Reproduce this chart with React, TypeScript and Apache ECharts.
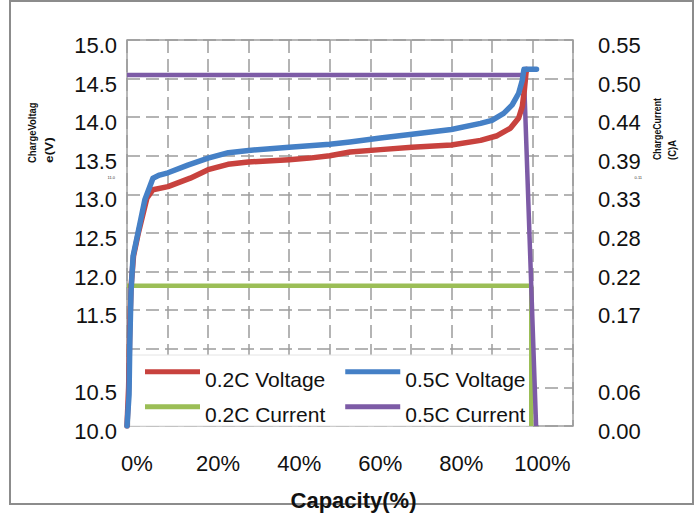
import React, { useEffect, useRef } from 'react';
import * as echarts from 'echarts';

// Tick labels
const xTickLabels = ['0%', '20%', '40%', '60%', '80%', '100%'];
const leftTickLabels = ['10.0', '10.5', '', '11.5', '12.0', '12.5', '13.0', '13.5', '14.0', '14.5', '15.0'];
const rightTickLabels = ['0.00', '0.06', '', '0.17', '0.22', '0.28', '0.33', '0.39', '0.44', '0.50', '0.55'];

// 0.2C voltage
const v02Capacity = [0, 0.4, 0.7, 1.0, 1.6, 2.8, 4.9, 6.4, 10.1, 15.6, 20, 24.9, 29.9, 40, 45, 50, 55, 62.5, 70.3, 80, 87.2, 91.3, 94.6, 96.6, 97.5, 98, 98.4, 98.6];
const v02Voltage = [10.0, 10.5, 11.3, 11.8, 12.2, 12.5, 12.95, 13.06, 13.1, 13.21, 13.32, 13.39, 13.42, 13.45, 13.47, 13.5, 13.55, 13.58, 13.61, 13.64, 13.7, 13.76, 13.86, 13.99, 14.14, 14.35, 14.57, 14.62];

// 0.5C voltage
const v05Capacity = [0, 0.5, 0.7, 1.0, 1.5, 2.7, 4.4, 6.4, 8, 10.1, 15, 20, 25, 30, 40, 50, 55, 62.5, 70.3, 80, 87.2, 90, 92.9, 95, 96.6, 97.5, 97.9, 101.0];
const v05Voltage = [10.0, 10.4, 11.1, 11.75, 12.2, 12.5, 12.93, 13.21, 13.25, 13.28, 13.38, 13.47, 13.54, 13.57, 13.61, 13.65, 13.68, 13.73, 13.78, 13.84, 13.92, 13.96, 14.05, 14.16, 14.31, 14.48, 14.62, 14.62];

// currents
const i02Capacity = [0, 99.7, 99.7];
const i02Current = [0.2, 0.2, 0];
const i05Capacity = [0, 97.9, 100.9];
const i05Current = [0.5, 0.5, 0];

const RED = '#C8423E';
const BLUE = '#4580C6';
const GREEN = '#9BBE56';
const PURPLE = '#7D5BA6';
const FONT = 'Liberation Sans, Arial, sans-serif';

// legend sample: bar at top of a 55x21 box, so the label sits below the bar
const LEGEND_ICON = 'path://M0,0L55,0L55,5L0,5Z M0,21L0.05,21L0.05,21Z';

const zip = (xs: number[], ys: number[]) => xs.map((x, i) => [x, ys[i]]);

export default function App() {
  const ref = useRef<HTMLDivElement>(null);
  useEffect(() => {
    if (!ref.current) return;
    const chart = echarts.init(ref.current, undefined, { renderer: 'svg' });
    const legendText = {
      fontSize: 21,
      fontFamily: FONT,
      color: '#111',
    };
    const legendBase = {
      left: 145,
      padding: 0,
      itemWidth: 55,
      itemHeight: 21,
      itemGap: 20,
      icon: LEGEND_ICON,
      textStyle: legendText,
      selectedMode: false,
    };
    const yLabel = {
      fontSize: 22,
      fontFamily: FONT,
      color: '#111',
      verticalAlign: 'top',
      lineHeight: 11,
    };
    chart.setOption({
      animation: false,
      backgroundColor: '#fff',
      grid: {
        left: 127,
        right: 126,
        top: 40,
        height: 386,
        show: true,
        borderColor: '#a0a0a0',
        borderWidth: 1.5,
        containLabel: false,
      },
      xAxis: {
        type: 'value',
        min: 0,
        max: 110,
        interval: 10,
        axisLine: { show: false },
        axisTick: { show: false },
        splitLine: { show: true, lineStyle: { color: '#9c9c9c', width: 1.5, type: [13, 6] } },
        axisLabel: {
          margin: 26,
          fontSize: 22,
          fontFamily: FONT,
          color: '#111',
          padding: [0, 0, 0, 20],
          formatter: (v: number) => {
            const i = Math.round(v / 20);
            return Math.abs(v - i * 20) < 1e-6 && i < xTickLabels.length ? xTickLabels[i] : '';
          },
        },
      },
      yAxis: [
        {
          type: 'value',
          min: 10,
          max: 15,
          interval: 0.5,
          axisLine: { show: false },
          axisTick: { show: false },
          splitLine: { show: true, lineStyle: { color: '#9c9c9c', width: 1.5, type: [13, 6] } },
          axisLabel: {
            ...yLabel,
            margin: 10,
            formatter: (v: number) => leftTickLabels[Math.round((v - 10) / 0.5)] ?? '',
          },
        },
        {
          type: 'value',
          min: 0,
          max: 0.55,
          interval: 0.055,
          position: 'right',
          axisLine: { show: false },
          axisTick: { show: false },
          splitLine: { show: false },
          axisLabel: {
            ...yLabel,
            margin: 25,
            formatter: (v: number) => rightTickLabels[Math.round(v / 0.055)] ?? '',
          },
        },
      ],
      legend: [
        { ...legendBase, data: ['0.2C Voltage', '0.5C Voltage'], top: 369.2 },
        { ...legendBase, data: ['0.2C Current', '0.5C Current'], top: 404.2 },
      ],
      graphic: [
        {
          type: 'rect',
          shape: { x: 10, y: 1, width: 683, height: 503 },
          style: { fill: 'none', stroke: '#8c8c8c', lineWidth: 2 },
          z: 1,
          silent: true,
        },
        {
          type: 'rect',
          shape: { x: 130, y: 355, width: 403, height: 71 },
          style: { fill: '#ffffff', stroke: '#e4e4e4', lineWidth: 1 },
          z: 3,
          silent: true,
        },
        {
          type: 'text',
          x: 32,
          y: 163,
          rotation: Math.PI / 2,
          scaleX: 0.9,
          style: { text: 'ChargeVoltag', font: `bold 10.5px ${FONT}`, fill: '#111', align: 'left', verticalAlign: 'middle' },
        },
        {
          type: 'text',
          x: 49.5,
          y: 163,
          rotation: Math.PI / 2,
          scaleX: 1.3,
          style: { text: 'e(V)', font: `bold 10.5px ${FONT}`, fill: '#111', align: 'left', verticalAlign: 'middle' },
        },
        {
          type: 'text',
          x: 657.5,
          y: 160,
          rotation: Math.PI / 2,
          scaleX: 0.88,
          style: { text: 'ChargeCurrent', font: `bold 10px ${FONT}`, fill: '#111', align: 'left', verticalAlign: 'middle' },
        },
        {
          type: 'text',
          x: 672.5,
          y: 160,
          rotation: Math.PI / 2,
          scaleX: 0.95,
          style: { text: '(C)A', font: `bold 10px ${FONT}`, fill: '#111', align: 'left', verticalAlign: 'middle' },
        },
        {
          type: 'text',
          x: 111.3,
          y: 177.7,
          style: { text: '11.0', font: `4px ${FONT}`, fill: '#333', align: 'center', verticalAlign: 'middle' },
        },
        {
          type: 'text',
          x: 638.3,
          y: 177.7,
          style: { text: '0.11', font: `4px ${FONT}`, fill: '#333', align: 'center', verticalAlign: 'middle' },
        },
        {
          type: 'text',
          x: 353.5,
          y: 500.5,
          z: 5,
          style: { text: 'Capacity(%)', font: `bold 22px ${FONT}`, fill: '#111', align: 'center', verticalAlign: 'middle' },
        },
      ],
      series: [
        {
          name: '0.2C Current',
          type: 'line',
          yAxisIndex: 1,
          data: zip(i02Capacity, i02Current),
          symbol: 'none',
          lineStyle: { width: 4.5, color: GREEN },
          itemStyle: { color: GREEN },
        },
        {
          name: '0.5C Current',
          type: 'line',
          yAxisIndex: 1,
          data: zip(i05Capacity, i05Current),
          symbol: 'none',
          lineStyle: { width: 4.5, color: PURPLE },
          itemStyle: { color: PURPLE },
        },
        {
          name: '0.2C Voltage',
          type: 'line',
          yAxisIndex: 0,
          data: zip(v02Capacity, v02Voltage),
          symbol: 'none',
          lineStyle: { width: 5.5, color: RED, cap: 'round', join: 'round' },
          itemStyle: { color: RED },
        },
        {
          name: '0.5C Voltage',
          type: 'line',
          yAxisIndex: 0,
          data: zip(v05Capacity, v05Voltage),
          symbol: 'none',
          lineStyle: { width: 5.5, color: BLUE, cap: 'round', join: 'round' },
          itemStyle: { color: BLUE },
        },
      ],
    });
    return () => chart.dispose();
  }, []);
  return (
    <div
      ref={ref}
      style={{ position: 'fixed', left: 0, top: 0, width: 699, height: 517, background: '#fff' }}
    />
  );
}
